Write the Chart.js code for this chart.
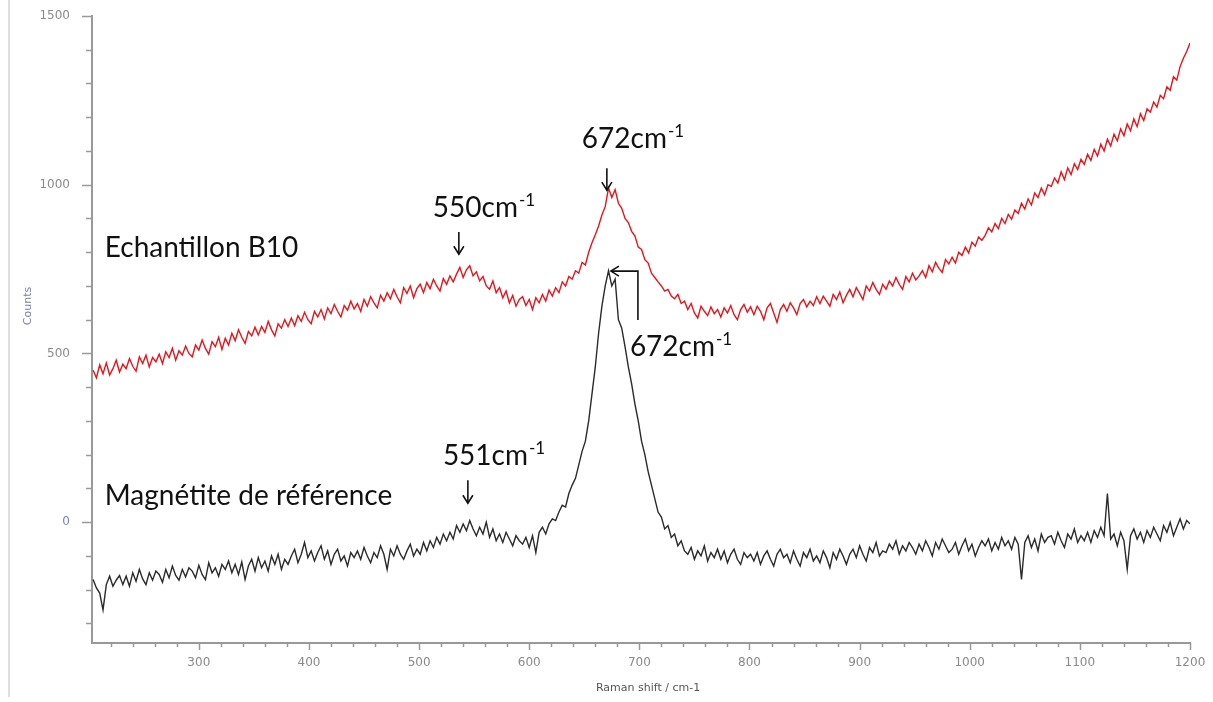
<!DOCTYPE html>
<html>
<head>
<meta charset="utf-8">
<script src="https://cdn.jsdelivr.net/npm/chart.js@4.4.1/dist/chart.umd.min.js"></script>
<style>
  body { margin: 0; background: #fff; }
  #wrap { width: 1213px; height: 702px; }
</style>
</head>
<body>
<div id="wrap"><canvas id="raman" width="1213" height="702"></canvas></div>
<script>
// Raman shift (cm-1), one row = 30 cm-1
const shifts = [
    204, 207, 210, 213, 216, 219, 222, 225, 228, 231,
    234, 237, 240, 243, 246, 249, 252, 255, 258, 261,
    264, 267, 270, 273, 276, 279, 282, 285, 288, 291,
    294, 297, 300, 303, 306, 309, 312, 315, 318, 321,
    324, 327, 330, 333, 336, 339, 342, 345, 348, 351,
    354, 357, 360, 363, 366, 369, 372, 375, 378, 381,
    384, 387, 390, 393, 396, 399, 402, 405, 408, 411,
    414, 417, 420, 423, 426, 429, 432, 435, 438, 441,
    444, 447, 450, 453, 456, 459, 462, 465, 468, 471,
    474, 477, 480, 483, 486, 489, 492, 495, 498, 501,
    504, 507, 510, 513, 516, 519, 522, 525, 528, 531,
    534, 537, 540, 543, 546, 549, 552, 555, 558, 561,
    564, 567, 570, 573, 576, 579, 582, 585, 588, 591,
    594, 597, 600, 603, 606, 609, 612, 615, 618, 621,
    624, 627, 630, 633, 636, 639, 642, 645, 648, 651,
    654, 657, 660, 663, 666, 669, 672, 675, 678, 681,
    684, 687, 690, 693, 696, 699, 702, 705, 708, 711,
    714, 717, 720, 723, 726, 729, 732, 735, 738, 741,
    744, 747, 750, 753, 756, 759, 762, 765, 768, 771,
    774, 777, 780, 783, 786, 789, 792, 795, 798, 801,
    804, 807, 810, 813, 816, 819, 822, 825, 828, 831,
    834, 837, 840, 843, 846, 849, 852, 855, 858, 861,
    864, 867, 870, 873, 876, 879, 882, 885, 888, 891,
    894, 897, 900, 903, 906, 909, 912, 915, 918, 921,
    924, 927, 930, 933, 936, 939, 942, 945, 948, 951,
    954, 957, 960, 963, 966, 969, 972, 975, 978, 981,
    984, 987, 990, 993, 996, 999, 1002, 1005, 1008, 1011,
    1014, 1017, 1020, 1023, 1026, 1029, 1032, 1035, 1038, 1041,
    1044, 1047, 1050, 1053, 1056, 1059, 1062, 1065, 1068, 1071,
    1074, 1077, 1080, 1083, 1086, 1089, 1092, 1095, 1098, 1101,
    1104, 1107, 1110, 1113, 1116, 1119, 1122, 1125, 1128, 1131,
    1134, 1137, 1140, 1143, 1146, 1149, 1152, 1155, 1158, 1161,
    1164, 1167, 1170, 1173, 1176, 1179, 1182, 1185, 1188, 1191,
    1194, 1197, 1200
];

// Echantillon B10 (counts)
const echantillon = [
    450, 428, 466, 440, 472, 436, 455, 480, 445, 468,
    455, 485, 462, 447, 490, 470, 495, 460, 488, 475,
    498, 470, 505, 488, 515, 480, 508, 495, 522, 500,
    490, 525, 510, 540, 515, 498, 535, 520, 548, 512,
    545, 525, 560, 538, 570, 548, 530, 565, 552, 578,
    555, 580, 562, 595, 570, 552, 588, 575, 600, 580,
    605, 582, 612, 595, 622, 600, 588, 625, 608, 630,
    602, 635, 618, 645, 625, 608, 642, 628, 655, 632,
    648, 625, 660, 640, 668, 650, 635, 672, 655, 680,
    662, 690, 668, 650, 695, 678, 700, 665, 692, 705,
    680, 710, 692, 720, 700, 685, 722, 705, 730, 712,
    735, 755, 725, 748, 760, 730, 742, 715, 728, 700,
    690, 715, 680, 695, 665, 685, 650, 672, 640, 660,
    668, 642, 660, 630, 665, 650, 675, 655, 688, 670,
    695, 680, 712, 700, 728, 720, 745, 738, 770, 762,
    800, 828, 852, 878, 910, 935, 990, 962, 985, 945,
    930, 900, 888, 862, 848, 815, 808, 778, 768, 738,
    725, 712, 700, 685, 690, 670, 662, 675, 648, 655,
    630, 648, 620, 605, 640, 625, 612, 638, 618, 630,
    608, 635, 620, 642, 615, 600, 630, 645, 622, 638,
    615, 640, 625, 600, 635, 648, 620, 592, 630, 645,
    625, 650, 635, 615, 648, 660, 638, 655, 642, 668,
    648, 670, 655, 640, 675, 660, 682, 650, 672, 690,
    668, 695, 678, 660, 700, 685, 710, 690, 675, 705,
    690, 715, 700, 725, 705, 690, 728, 712, 738, 718,
    730, 745, 725, 760, 742, 770, 752, 740, 778, 765,
    785, 768, 800, 790, 815, 798, 830, 818, 845, 835,
    850, 872, 860, 885, 870, 900, 885, 912, 898, 925,
    915, 945, 928, 958, 940, 975, 962, 990, 970, 1000,
    995, 1020, 1005, 1038, 1015, 1050, 1030, 1062, 1045, 1075,
    1060, 1090, 1072, 1105, 1085, 1120, 1100, 1135, 1115, 1150,
    1130, 1165, 1145, 1180, 1160, 1195, 1172, 1210, 1190, 1225,
    1215, 1245, 1230, 1265, 1255, 1290, 1280, 1320, 1310, 1350,
    1375, 1395, 1420
];

// Magnetite de reference (counts)
const magnetite = [
    -170, -195, -210, -260, -185, -160, -190, -172, -158, -185,
    -160, -190, -150, -175, -140, -168, -185, -150, -172, -145,
    -155, -178, -140, -165, -130, -158, -172, -140, -162, -135,
    -145, -165, -128, -155, -170, -120, -150, -135, -160, -125,
    -140, -115, -150, -125, -155, -118, -170, -130, -110, -145,
    -105, -135, -115, -145, -100, -125, -95, -140, -110, -125,
    -100, -80, -120, -95, -60, -105, -85, -115, -90, -70,
    -110, -85, -125, -95, -80, -115, -100, -130, -90, -105,
    -85, -110, -75, -100, -120, -90, -105, -70, -95, -140,
    -80, -100, -70, -95, -110, -85, -65, -100, -80, -95,
    -60, -85, -55, -75, -45, -65, -35, -55, -30, -50,
    -10, -30, -5, -25, 5, -20, -40, -15, -35, 0,
    -45, -20, -55, -35, -60, -30, -50, -70, -40, -55,
    -65, -45, -75, -40, -90, -30, -15, -35, -5, 10,
    5, 30, 50, 45, 85, 110, 130, 170, 210, 240,
    300, 380, 460, 560, 640, 700, 745, 700, 720, 600,
    575, 520, 460, 410, 350, 300, 240, 200, 150, 110,
    70, 30, 15, -20, -10, -45, -35, -70, -55, -85,
    -95, -75, -110, -85, -100, -70, -115, -90, -105, -80,
    -110, -85, -120, -95, -80, -110, -125, -90, -105, -95,
    -115, -90, -125, -100, -85, -110, -130, -95, -80, -105,
    -95, -120, -85, -110, -130, -90, -105, -80, -115, -100,
    -120, -85, -105, -135, -90, -110, -80, -100, -125, -95,
    -80, -105, -70, -95, -115, -75, -90, -60, -100, -85,
    -90, -65, -80, -55, -95, -70, -85, -60, -75, -95,
    -65, -85, -55, -75, -100, -60, -80, -50, -70, -90,
    -80, -60, -95, -70, -50, -85, -65, -100, -75, -55,
    -70, -50, -85, -60, -80, -45, -70, -55, -80, -45,
    -65, -170, -60, -40, -75, -50, -85, -35, -60, -45,
    -40, -65, -30, -55, -75, -35, -50, -20, -60, -40,
    -55, -30, -60, -25, -45, -15, -40, 85, -50, -35,
    -70, -30, -55, -140, -40, -20, -50, -30, -60, -25,
    -45, -15, -35, -55, -10, -30, 0, -40, -15, 10,
    -20, 5, -5
];

const xTicks = [300, 400, 500, 600, 700, 800, 900, 1000, 1100, 1200];
const yTicks = [0, 500, 1000, 1500];

// annotations, in data units (x = shift, y = counts at the text baseline)
const notes = [
    { text: 'Echantillon B10', x: 214.6, y: 786 },
    { text: '672cm', sup: '-1', x: 647.8, y: 1108 },
    { text: '550cm', sup: '-1', x: 512.5, y: 904 },
    { text: '672cm', sup: '-1', x: 691.4, y: 492 },
    { text: '551cm', sup: '-1', x: 521.6, y: 169 },
    { text: 'Magnétite de référence', x: 214.6, y: 50 }
];
const downArrows = [
    { x: 670.5, from: 1049, to: 984 },
    { x: 536.1, from: 860, to: 794 },
    { x: 544.3, from: 124, to: 56 }
];
const peakBracket = { tipX: 674.2, cornerX: 698.7, y: 744, bottom: 599 };

const tickFont = '12px "DejaVu Sans"';
const noteFont = '28px Lato';
const supFont = '17px Lato';

function arrowHead(ctx, x, y, dir) {
    // open V head, dir = 'down' | 'left'
    ctx.beginPath();
    if (dir === 'down') {
        ctx.moveTo(x - 5, y - 8);
        ctx.lineTo(x, y);
        ctx.lineTo(x + 5, y - 8);
    } else {
        ctx.moveTo(x + 8, y - 5);
        ctx.lineTo(x, y);
        ctx.lineTo(x + 8, y + 5);
    }
    ctx.stroke();
}

const overlay = {
    id: 'overlay',
    afterDraw(chart) {
        const { ctx, chartArea: area } = chart;
        const xs = chart.scales.x, ys = chart.scales.y;
        ctx.save();

        // thin frame line on the left
        ctx.strokeStyle = '#d4d4d4';
        ctx.lineWidth = 1.5;
        ctx.beginPath();
        ctx.moveTo(9, 0);
        ctx.lineTo(9, 697);
        ctx.stroke();

        // tick marks, major and minor
        ctx.strokeStyle = '#999';
        ctx.lineWidth = 1.5;
        for (let v = -300; v <= 1500; v += 100) {
            const py = Math.round(ys.getPixelForValue(v)) + 0.5;
            const len = v % 500 === 0 ? 10 : 6;
            ctx.beginPath();
            ctx.moveTo(area.left - len, py);
            ctx.lineTo(area.left, py);
            ctx.stroke();
        }
        for (let v = 220; v <= 1200; v += 20) {
            const px = Math.round(xs.getPixelForValue(v)) + 0.5;
            const len = v % 100 === 0 ? 7 : 4;
            ctx.beginPath();
            ctx.moveTo(px, area.bottom);
            ctx.lineTo(px, area.bottom + len);
            ctx.stroke();
        }

        // tick labels
        ctx.font = tickFont;
        ctx.textBaseline = 'middle';
        ctx.textAlign = 'right';
        yTicks.forEach(v => {
            ctx.fillStyle = v === 0 ? '#7b7fc0' : '#8a8a8a';
            ctx.fillText(String(v), area.left - 22, ys.getPixelForValue(v));
        });
        ctx.textAlign = 'center';
        ctx.fillStyle = '#8a8a8a';
        xTicks.forEach(v => {
            ctx.fillText(String(v), xs.getPixelForValue(v), area.bottom + 20);
        });

        // axis titles
        ctx.font = '11px "DejaVu Sans"';
        ctx.fillStyle = '#555';
        ctx.fillText('Raman shift / cm-1', (area.left + area.right) / 2 + 7, 688);
        ctx.save();
        ctx.translate(28, 306);
        ctx.rotate(-Math.PI / 2);
        ctx.fillStyle = '#7b7fa8';
        ctx.fillText('Counts', 0, 0);
        ctx.restore();

        // peak labels
        ctx.fillStyle = '#111';
        ctx.textAlign = 'left';
        ctx.textBaseline = 'alphabetic';
        notes.forEach(n => {
            const px = xs.getPixelForValue(n.x);
            const py = ys.getPixelForValue(n.y);
            ctx.font = noteFont;
            ctx.fillText(n.text, px, py);
            if (n.sup) {
                const w = ctx.measureText(n.text).width;
                ctx.font = supFont;
                ctx.fillText(n.sup, px + w + 1, py - 11);
            }
        });

        // arrows
        ctx.strokeStyle = '#111';
        ctx.lineWidth = 1.6;
        downArrows.forEach(a => {
            const px = xs.getPixelForValue(a.x);
            const y1 = ys.getPixelForValue(a.from);
            const y2 = ys.getPixelForValue(a.to);
            ctx.beginPath();
            ctx.moveTo(px, y1);
            ctx.lineTo(px, y2);
            ctx.stroke();
            arrowHead(ctx, px, y2, 'down');
        });
        const tip = xs.getPixelForValue(peakBracket.tipX);
        const corner = xs.getPixelForValue(peakBracket.cornerX);
        const by = ys.getPixelForValue(peakBracket.y);
        const bb = ys.getPixelForValue(peakBracket.bottom);
        ctx.beginPath();
        ctx.moveTo(corner, bb);
        ctx.lineTo(corner, by);
        ctx.lineTo(tip, by);
        ctx.stroke();
        arrowHead(ctx, tip, by, 'left');

        ctx.restore();
    }
};

const toPoints = vals => shifts.map((s, i) => ({ x: s, y: vals[i] }));

new Chart(document.getElementById('raman'), {
    type: 'line',
    data: {
        datasets: [
            {
                label: 'Echantillon B10',
                data: toPoints(echantillon),
                borderColor: '#e8141b',
                borderWidth: 1.4,
                pointRadius: 0,
                tension: 0
            },
            {
                label: 'Magnétite de référence',
                data: toPoints(magnetite),
                borderColor: '#2a2a2a',
                borderWidth: 1.4,
                pointRadius: 0,
                tension: 0
            }
        ]
    },
    options: {
        responsive: false,
        animation: false,
        layout: { padding: { top: 16, right: 23, left: 0, bottom: 0 } },
        plugins: {
            legend: { display: false },
            tooltip: { enabled: false }
        },
        scales: {
            x: {
                type: 'linear',
                min: 203,
                max: 1200,
                afterFit: s => { s.height = 59; },
                grid: { display: false, drawTicks: false },
                border: { display: true, color: '#999', width: 2 },
                ticks: { display: false }
            },
            y: {
                type: 'linear',
                min: -358,
                max: 1500,
                afterFit: s => { s.width = 92; },
                grid: { display: false, drawTicks: false },
                border: { display: true, color: '#999', width: 2 },
                ticks: { display: false }
            }
        }
    },
    plugins: [overlay]
});
</script>
</body>
</html>
